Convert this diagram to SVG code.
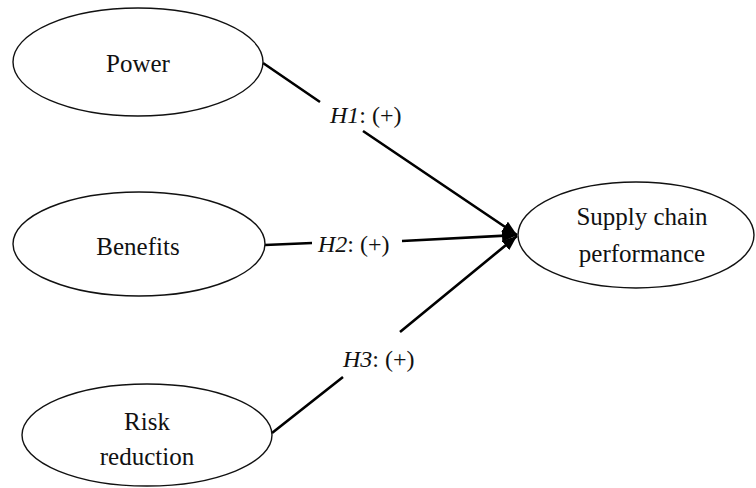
<svg xmlns="http://www.w3.org/2000/svg" width="756" height="488" viewBox="0 0 756 488">
  <style>
    .node { fill: #ffffff; stroke: #111111; stroke-width: 1.4; }
    .label { font-family: "Liberation Serif", "Times New Roman", serif; font-size: 25px; fill: #111111; }
    .mid { text-anchor: middle; }
    .edge { fill: none; stroke: #000000; stroke-width: 2.6; marker-end: url(#arrow); }
    .hyp { font-family: "Liberation Serif", "Times New Roman", serif; font-size: 24px; fill: #111111; }
  </style>
  <defs>
    <marker id="arrow" markerUnits="userSpaceOnUse" markerWidth="16" markerHeight="12" refX="15" refY="6" orient="auto">
      <path d="M0,0 L15,6 L0,12 z" fill="#000000"/>
    </marker>
  </defs>
  <rect width="756" height="488" fill="#ffffff"/>

  <!-- connectors, broken where the hypothesis labels sit -->
  <g id="connectors">
    <path class="edge" d="M263,63 L320,102 M363,131 L517,235"/>
    <path class="edge" d="M265,245 L312,243 M402,241 L517,235"/>
    <path class="edge" d="M272,433 L343,377 M400,332 L517,236"/>
    <text class="hyp" x="330" y="123"><tspan font-style="italic">H1</tspan>: (+)</text>
    <text class="hyp" x="318" y="252"><tspan font-style="italic">H2</tspan>: (+)</text>
    <text class="hyp" x="343" y="367"><tspan font-style="italic">H3</tspan>: (+)</text>
  </g>

  <g id="power">
    <ellipse class="node" cx="138" cy="62" rx="125" ry="54"/>
    <text class="label mid" x="138" y="72">Power</text>
  </g>

  <g id="benefits">
    <ellipse class="node" cx="139" cy="244" rx="126" ry="52"/>
    <text class="label mid" x="138" y="255">Benefits</text>
  </g>

  <g id="risk-reduction">
    <ellipse class="node" cx="147" cy="435" rx="125" ry="51"/>
    <text class="label mid" x="147" y="430">Risk</text>
    <text class="label mid" x="147" y="465">reduction</text>
  </g>

  <g id="supply-chain-performance">
    <ellipse class="node" cx="636" cy="235" rx="118" ry="53"/>
    <text class="label mid" x="642" y="225">Supply chain</text>
    <text class="label mid" x="642" y="262">performance</text>
  </g>
</svg>
